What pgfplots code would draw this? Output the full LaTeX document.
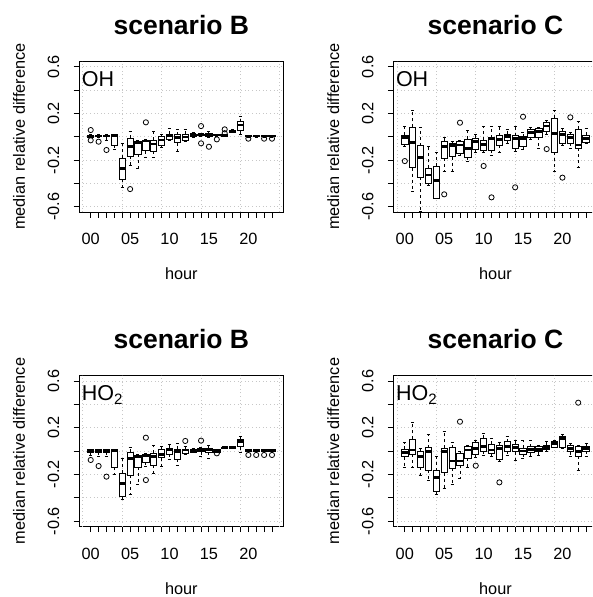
\documentclass[border=0pt]{standalone}
\usepackage{fontspec}
\setmainfont{Liberation Sans}
\usepackage{pgfplots}
\usepackage{pgfplotstable}
\usepgfplotslibrary{statistics}
\pgfplotsset{compat=1.18}

% one row per hour (00..23): lower whisker, lower quartile, median, upper quartile, upper whisker
\pgfplotstableread{
lw lq med uq uw
-0.010 -0.006 0.004 0.014 0.017
-0.003 0.000 0.006 0.014 0.017
-0.034 0.000 0.006 0.014 0.017
-0.106 -0.071 0.011 0.014 0.017
-0.434 -0.366 -0.271 -0.186 -0.057
-0.243 -0.166 -0.086 -0.014 0.049
-0.271 -0.149 -0.051 -0.043 -0.034
-0.177 -0.120 -0.037 -0.029 -0.023
-0.177 -0.123 -0.063 -0.029 0.043
-0.094 -0.071 -0.029 0.006 0.017
-0.029 -0.023 0.011 0.023 0.071
-0.129 -0.051 -0.006 0.017 0.063
-0.043 -0.029 -0.003 0.020 0.063
-0.003 0.006 0.017 0.023 0.037
0.006 0.011 0.017 0.023 0.029
-0.009 0.000 0.020 0.029 0.049
0.006 0.009 0.014 0.020 0.023
0.003 0.005 0.011 0.017 0.020
0.037 0.040 0.049 0.057 0.060
0.023 0.051 0.100 0.129 0.177
-0.003 0.000 0.006 0.011 0.014
-0.003 0.000 0.006 0.011 0.014
-0.003 0.000 0.006 0.011 0.014
-0.003 0.000 0.006 0.011 0.014
}\tabBOH

\pgfplotstableread{
lw lq med uq uw
-0.080 -0.066 -0.009 0.014 0.091
-0.466 -0.266 -0.049 0.080 0.229
-0.643 -0.349 -0.177 -0.077 0.080
-0.414 -0.400 -0.329 -0.271 -0.086
-0.529 -0.529 -0.377 -0.251 -0.134
-0.294 -0.186 -0.086 -0.037 -0.009
-0.294 -0.171 -0.077 -0.057 -0.037
-0.157 -0.143 -0.071 -0.043 -0.029
-0.214 -0.177 -0.100 -0.020 0.051
-0.134 -0.106 -0.043 -0.014 0.023
-0.134 -0.114 -0.066 -0.029 0.091
-0.157 -0.114 -0.014 -0.009 0.091
-0.134 -0.071 -0.023 0.009 0.091
-0.057 -0.029 0.000 0.020 0.063
-0.129 -0.100 -0.014 0.009 0.091
-0.109 -0.086 -0.014 0.000 0.034
-0.023 -0.006 0.034 0.063 0.080
-0.100 -0.006 0.043 0.071 0.080
0.023 0.043 0.091 0.120 0.143
-0.294 -0.134 0.029 0.157 0.229
-0.071 -0.057 0.020 0.043 0.071
-0.100 -0.057 -0.009 0.020 0.034
-0.266 -0.100 -0.071 0.063 0.129
-0.057 -0.049 -0.014 0.014 0.071
}\tabCOH

\pgfplotstableread{
lw lq med uq uw
-0.034 -0.011 0.003 0.009 0.014
-0.049 -0.011 0.003 0.009 0.014
-0.049 -0.011 0.003 0.009 0.014
-0.197 -0.140 0.003 0.006 0.009
-0.414 -0.386 -0.277 -0.191 -0.063
-0.371 -0.206 -0.063 -0.011 0.031
-0.291 -0.140 -0.049 -0.034 -0.029
-0.134 -0.097 -0.043 -0.029 -0.020
-0.191 -0.120 -0.049 -0.020 0.046
-0.134 -0.057 -0.029 0.009 0.037
-0.069 -0.029 0.009 0.023 0.057
-0.120 -0.069 -0.006 0.017 0.066
-0.029 -0.020 0.009 0.017 0.037
-0.011 -0.011 0.003 0.017 0.023
-0.049 -0.006 0.014 0.023 0.029
-0.063 -0.011 0.009 0.023 0.046
-0.011 -0.011 0.000 0.009 0.014
0.023 0.023 0.029 0.034 0.037
0.023 0.026 0.031 0.037 0.040
-0.014 0.037 0.080 0.100 0.123
-0.006 -0.006 0.003 0.009 0.011
-0.006 -0.006 0.003 0.009 0.011
-0.006 -0.006 0.003 0.009 0.011
-0.006 -0.006 0.003 0.009 0.011
}\tabBHO

\pgfplotstableread{
lw lq med uq uw
-0.140 -0.049 -0.011 0.014 0.071
-0.140 -0.029 0.009 0.100 0.246
-0.206 -0.140 -0.049 0.000 0.023
-0.249 -0.163 -0.006 0.029 0.143
-0.369 -0.349 -0.226 -0.171 -0.049
-0.320 -0.186 -0.006 0.023 0.166
-0.283 -0.149 -0.086 0.029 0.074
-0.234 -0.120 -0.086 -0.020 0.000
-0.140 -0.063 0.009 0.037 0.051
-0.057 -0.029 0.023 0.071 0.094
-0.034 0.000 0.037 0.109 0.151
-0.049 -0.020 0.009 0.060 0.109
-0.091 -0.071 0.023 0.051 0.074
-0.034 0.000 0.037 0.080 0.123
-0.077 -0.006 0.031 0.060 0.094
-0.063 -0.029 0.000 0.023 0.089
-0.049 -0.014 0.014 0.037 0.094
-0.034 -0.006 0.014 0.037 0.051
0.000 0.009 0.031 0.051 0.080
0.031 0.031 0.066 0.080 0.094
0.023 0.031 0.109 0.123 0.143
-0.049 -0.006 0.023 0.051 0.066
-0.171 -0.043 -0.006 0.043 0.051
-0.049 0.000 0.023 0.043 0.066
}\tabCHO

\newcommand\tickfont{\fontsize{16.3}{18}\selectfont}

\pgfplotsset{
  bx/.style={draw=black, fill=white, line width=0.9pt,
    boxplot/draw direction=y,
    boxplot/box extend=0.8, boxplot/whisker extend=0.4,
    boxplot/every whisker/.style={dash pattern=on 3pt off 3pt},
    boxplot/every median/.style={line width=2.8pt}},
  outl/.style={only marks, mark=o, mark size=2.6pt, black,
    mark options={line width=0.8pt}},
  rpanel/.style={
    scale only axis, width=204.3pt, height=151.2pt, anchor=south west,
    xmin=-1.46, xmax=24.46, ymin=-0.648, ymax=0.648,
    clip=false,
    axis line style={line width=0.9pt},
    xtick={0,...,23},
    xticklabels={00,,,,,05,,,,,10,,,,,15,,,,,20,,,},
    ytick={-0.6,-0.4,-0.2,0,0.2,0.4,0.6},
    yticklabels={-0.6,,-0.2,,0.2,,0.6},
    xtick pos=left, ytick pos=left,
    tick align=outside, major tick length=5.5pt,
    tick style={black, line width=0.9pt},
    tick label style={font=\tickfont, inner sep=0pt},
    xticklabel style={anchor=base, yshift=-27pt},
    yticklabel style={xshift=-14.5pt, rotate=90, anchor=base},
    ymajorgrids,
    extra x ticks={-1,4,9,14,19,24}, extra x tick labels={},
    extra x tick style={grid=major, major tick length=0pt},
    grid style={black!22, dash pattern=on 1pt off 2.6pt, line width=0.8pt},
    every axis x label/.style={at={([yshift=-67.7pt]rel axis cs:0.5,0)},
      anchor=base, font=\tickfont},
    every axis title/.style={at={([yshift=26.8pt]rel axis cs:0.5,1)},
      anchor=base, font=\bfseries\fontsize{26.5}{28}\selectfont},
    xlabel={hour},
  },
}

% draw the 24 hourly boxes of one panel from its table
\newcommand\boxes[1]{%
  \pgfplotsforeachungrouped \i in {0,...,23}{%
    \pgfplotstablegetelem{\i}{lw}\of#1\let\vlw\pgfplotsretval
    \pgfplotstablegetelem{\i}{lq}\of#1\let\vlq\pgfplotsretval
    \pgfplotstablegetelem{\i}{med}\of#1\let\vmed\pgfplotsretval
    \pgfplotstablegetelem{\i}{uq}\of#1\let\vuq\pgfplotsretval
    \pgfplotstablegetelem{\i}{uw}\of#1\let\vuw\pgfplotsretval
    \edef\tmp{\noexpand\addplot[bx, boxplot prepared={draw position=\i,
      lower whisker=\vlw, lower quartile=\vlq, median=\vmed,
      upper quartile=\vuq, upper whisker=\vuw}] coordinates {};}%
    \tmp
  }%
}
% species name in the corner and the y label beside the panel
\newcommand\species[1]{%
  \node[anchor=base west, inner sep=0pt, xshift=2.5pt, yshift=-25.6pt,
    font=\fontsize{21.5}{24}\selectfont] at (rel axis cs:0,1) {#1};
  \node[xshift=-54.2pt, rotate=90, anchor=base, inner sep=0pt, font=\tickfont]
    at (rel axis cs:0,0.5) {median relative difference};}

\begin{document}
\begin{tikzpicture}
\path[use as bounding box] (0,0) rectangle (592pt,597pt);
\clip (0,0) rectangle (592pt,597pt);

\begin{axis}[rpanel, at={(79.2pt,384.7pt)}, title={scenario B}]
\boxes{\tabBOH}
\addplot[outl] coordinates {(0,0.057) (0,-0.031) (1,-0.043) (2,-0.114) (5,-0.449)
  (7,0.123) (14,0.091) (14,-0.057) (15,-0.086) (16,-0.023) (17,0.063) (17,0.030)
  (20,-0.017) (22,-0.017) (23,-0.017)};
\species{OH}
\end{axis}

\begin{axis}[rpanel, at={(393.3pt,384.7pt)}, title={scenario C}]
\boxes{\tabCOH}
\addplot[outl] coordinates {(0,-0.209) (5,-0.494) (7,0.120) (10,-0.251) (11,-0.520)
  (14,-0.434) (15,0.171) (18,-0.106) (20,-0.351) (21,0.166)};
\species{OH}
\end{axis}

\begin{axis}[rpanel, at={(79.2pt,70.4pt)}, title={scenario B}]
\boxes{\tabBHO}
\addplot[outl] coordinates {(0,-0.077) (1,-0.129) (2,-0.220) (7,0.114) (7,-0.249)
  (12,0.086) (14,0.089) (16,-0.020) (20,-0.034) (21,-0.034) (22,-0.034) (23,-0.034)};
\species{HO\textsubscript{2}}
\end{axis}

\begin{axis}[rpanel, at={(393.3pt,70.4pt)}, title={scenario C}]
\boxes{\tabCHO}
\addplot[outl] coordinates {(7,0.251) (9,-0.126) (12,-0.269) (22,0.414)};
\species{HO\textsubscript{2}}
\end{axis}
\end{tikzpicture}
\end{document}
